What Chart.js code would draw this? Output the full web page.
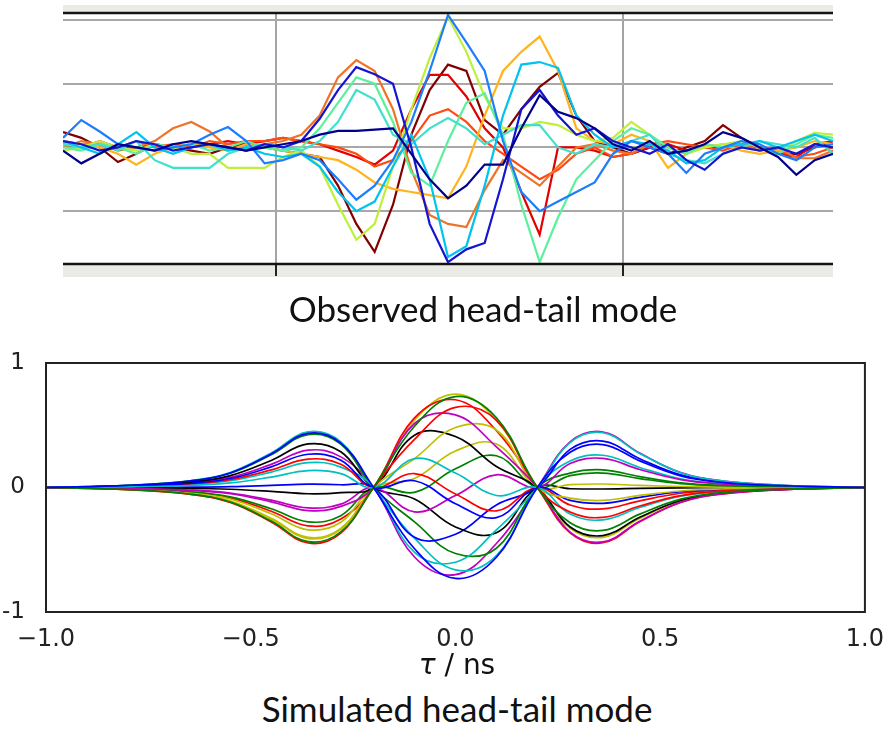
<!DOCTYPE html>
<html>
<head>
<meta charset="utf-8">
<script src="https://cdn.jsdelivr.net/npm/chart.js@4.4.1/dist/chart.umd.min.js"></script>
<style>
  body { margin: 0; background: #fff; }
  #wrap { position: relative; width: 889px; height: 729px; overflow: hidden; }
  canvas { position: absolute; left: 0; }
  .caption {
    position: absolute; white-space: nowrap; text-align: center;
    font-family: Lato, "Open Sans", sans-serif; font-size: 35px; line-height: 32px; color: #111;
  }
  .axis-title {
    position: absolute; white-space: nowrap; text-align: center;
    font-family: "DejaVu Sans", sans-serif; font-size: 28px; line-height: 28px; color: #111;
  }
</style>
</head>
<body>
<div id="wrap">
  <canvas id="observed" width="889" height="290" style="top:0;width:889px;height:290px"></canvas>
  <div class="caption" style="left:263px;width:440px;top:292px">Observed head-tail mode</div>
  <canvas id="simulated" width="889" height="340" style="top:330px;width:889px;height:340px"></canvas>
  <div class="axis-title" style="left:357px;width:200px;top:651px"><i>τ</i> / ns</div>
  <div class="caption" style="left:237px;width:440px;top:692px">Simulated head-tail mode</div>
</div>
<script>
// ---- observed traces: one value per scope sample ----
const obsSamples = Array.from({ length: 43 }, (_, i) => i);
const obsGridX = [11.62, 30.55];
const obsGridY = [-1, 0, 1, 2];

const obsNavy = [-0.05,-0.25,-0.1,0.05,0,-0.05,0.05,0.1,0.05,0, -0.05,0,0.05,0.1,0.2,0.26,0.26,0.28,0.3,-0.1,
  -0.5,-0.8,-0.6,-0.27,-0.27,0.3,0.82,0.56,0.46,0.3, 0.05,-0.05,0.1,-0.1,-0.05,0.05,0.24,0.15,0,-0.15, -0.43,-0.2,-0.1];
const obsBlue = [0.1,0.05,-0.05,0,0.1,0.05,-0.05,0,0.05,0, -0.05,0.05,0,0.1,0.45,0.9,1.26,1.15,1.0,0,
  -1.2,-1.8,-1.6,-1.5,-0.5,0.6,0.9,0.5,0.2,0.3, 0.1,0,-0.1,0.05,-0.2,-0.35,-0.1,0,-0.05,0, -0.1,0.05,0];
const obsDodger = [0.15,0.43,0.25,0.05,0,-0.05,0,0.05,0.2,0.32, 0.1,-0.25,-0.2,-0.1,-0.2,-0.5,-0.82,-0.6,-0.2,0.4,
  1.2,2.08,1.65,1.2,0.1,-0.7,-1.0,-0.85,-0.7,-0.55, -0.1,0.1,0,-0.1,-0.4,-0.1,0,0.1,0.05,-0.1, -0.2,0,0.05];
const obsCyan = [0.1,0,-0.1,0.05,0.24,0,-0.1,0,0.05,-0.05, 0,-0.1,-0.15,-0.1,-0.3,-0.7,-1.0,-0.85,-0.3,0.2,
  -0.5,-1.72,-1.55,-0.6,0.5,1.3,1.34,1.25,0.5,0.2, 0,0.1,0.05,-0.05,-0.25,-0.2,0,0.05,0.1,0, 0.1,0.2,0.1];
const obsTurquoise = [0.05,0,0.05,-0.05,0.1,-0.2,-0.32,-0.32,-0.32,-0.1, 0,0.05,0,-0.05,0.1,0.4,0.9,0.75,0.2,0.05,
  0.3,0.46,0.3,0.05,0.2,0.35,0.35,0,-0.1,0.05, 0,0.1,0.2,-0.1,-0.2,-0.25,-0.1,0,0.1,0.05, 0,0.15,-0.1];
const obsSpring = [0,-0.05,0.05,0,-0.1,0.05,0,0.05,-0.05,0, 0.1,0,-0.05,0,0.3,0.7,1.1,1.0,0.4,-0.4,
  -0.6,0.1,0.7,0.85,0.2,-0.9,-1.8,-1.1,-0.5,-0.2, 0.1,0.3,0.2,0,-0.1,0.05,0,0.1,0,-0.1, 0.05,0.2,0.15];
const obsLime = [-0.05,0,0.1,0,-0.05,0.05,0,-0.1,-0.1,-0.32, -0.32,-0.32,-0.15,-0.05,-0.3,-0.9,-1.45,-1.2,-0.3,0.6,
  1.4,2.05,1.5,0.8,0.3,0.3,0.4,0.35,0.2,0.1, 0.15,0.4,0.2,0,-0.1,0,0.05,0.1,0,-0.1, 0.1,0.23,0.2];
const obsAmber = [0.1,0.05,0,-0.1,-0.27,-0.1,0,0.05,0,-0.05, 0.05,0,-0.05,-0.1,-0.15,-0.2,-0.35,-0.55,-0.65,-0.7,
  -0.75,-0.8,-0.3,0.5,1.2,1.5,1.74,1.2,0.3,0.1, 0.05,0.2,0.1,-0.32,-0.1,0,0.05,-0.05,-0.1,-0.05, 0,0.1,0.05];
const obsOrange = [0,0.1,0.05,-0.05,0,0.1,0.3,0.4,0.25,0, -0.05,0.05,0.1,0.2,0.5,1.1,1.37,1.2,0.6,-0.35,
  -1.06,-1.2,-1.25,-0.67,-0.2,-0.4,-0.6,-0.3,0,0.05, -0.05,-0.1,0.05,0,-0.1,0.05,0,0.05,-0.05,0, -0.17,-0.17,-0.05];
const obsRedOrange = [0.1,0.05,0.05,0,0.1,0,0.05,0,0.1,0.05, 0.1,0.1,0.15,0.1,0.05,0,-0.1,-0.3,-0.2,0.1,
  0.5,0.6,0.4,0.1,-0.1,-0.3,-0.5,-0.35,-0.1,0, -0.15,-0.1,0.05,0.1,0.05,0,-0.05,0.05,0,-0.05, -0.15,-0.1,0];
const obsRed = [0.05,0,0.1,0,0,0.05,0,0.05,0.05,0.1, 0.05,0.1,0.15,0.1,0.05,-0.05,-0.15,-0.27,-0.05,0.6,
  1.14,1.14,0.8,0.3,0,-0.7,-1.37,0,0,-0.05, -0.15,-0.1,0,0.05,-0.05,0,0,0.05,0,-0.1, -0.15,0.05,0.1];
const obsBrown = [0.24,0.15,0,-0.23,-0.1,0.05,0,-0.05,-0.1,0, 0.05,0,-0.05,-0.1,-0.15,-0.6,-1.2,-1.64,-0.9,0.2,
  0.9,1.3,1.2,0.43,0.2,0.6,0.95,1.17,0.5,0.1, 0,-0.1,0,-0.1,0,0.1,0.35,0.15,0,-0.1, -0.1,0,0.1];

const obsSeries = [obsNavy, obsBlue, obsDodger, obsCyan, obsTurquoise, obsSpring,
  obsLime, obsAmber, obsOrange, obsRedOrange, obsRed, obsBrown];
const obsColors = ['#00008c', '#1414d2', '#1e7cff', '#00c4ee', '#40e0cc', '#5cf09c',
  '#c0ee3c', '#ffb41e', '#f07226', '#ff4a12', '#e20000', '#820000'];

// ---- simulated mode, sampled in tau (ns) ----
const simTau = [-1.0, -0.8, -0.65, -0.55, -0.45, -0.36, -0.28, -0.2, -0.1, 0, 0.1, 0.2, 0.28, 0.36, 0.45, 0.55, 0.65, 0.8, 1.0];
const simTicksY = [-1, 0, 1];

const simBlue1 = [0,0.017,0.052,0.117,0.27,0.435,0.357,0,-0.492,-0.73,-0.56,0,0.283,0.345,0.214,0.093,0.041,0.014,0];
const simGreen1 = [0,-0.017,-0.052,-0.117,-0.27,-0.435,-0.357,0,0.492,0.73,0.56,0,-0.283,-0.345,-0.214,-0.093,-0.041,-0.014,0];
const simRed1 = [0,-0.018,-0.054,-0.12,-0.277,-0.446,-0.366,0,0.386,0.643,0.54,0,-0.197,-0.24,-0.149,-0.065,-0.029,-0.01,0];
const simCyan1 = [0,0.005,0.016,0.037,0.084,0.136,0.112,0,0.232,0.117,-0.064,0,-0.213,-0.26,-0.161,-0.07,-0.031,-0.01,0];
const simMagenta1 = [0,-0.007,-0.022,-0.05,-0.115,-0.185,-0.152,0,0.514,0.583,0.326,0,-0.358,-0.437,-0.271,-0.118,-0.052,-0.017,0];
const simYellow1 = [0,-0.016,-0.049,-0.111,-0.254,-0.41,-0.336,0,0.232,0.482,0.462,0,-0.085,-0.104,-0.064,-0.028,-0.012,-0.004,0];
const simBlack1 = [0,-0.002,-0.006,-0.014,-0.031,-0.05,-0.041,0,0.42,0.409,0.168,0,-0.317,-0.386,-0.239,-0.104,-0.046,-0.015,0];
const simBlue2 = [0,0.011,0.032,0.072,0.166,0.267,0.219,0,0.054,-0.13,-0.242,0,-0.104,-0.127,-0.079,-0.034,-0.015,-0.005,0];
const simGreen2 = [0,-0.011,-0.033,-0.075,-0.171,-0.276,-0.226,0,-0.039,0.15,0.255,0,0.095,0.116,0.072,0.031,0.014,0.005,0];
const simRed2 = [0,0.009,0.027,0.062,0.141,0.228,0.187,0,0.112,-0.052,-0.188,0,-0.141,-0.172,-0.107,-0.046,-0.021,-0.007,0];
const simCyan2 = [0,0.008,0.024,0.054,0.124,0.2,0.164,0,-0.521,-0.6,-0.341,0,0.361,0.44,0.273,0.119,0.053,0.018,0];
const simMagenta2 = [0,-0.007,-0.02,-0.044,-0.102,-0.164,-0.134,0,-0.196,-0.065,0.102,0,0.192,0.234,0.145,0.063,0.028,0.009,0];
const simYellow2 = [0,-0.014,-0.041,-0.092,-0.211,-0.34,-0.279,0,0.073,0.293,0.349,0,0.023,0.028,0.017,0.008,0.003,0.001,0];
const simBlack2 = [0,0.014,0.042,0.095,0.217,0.35,0.287,0,-0.092,-0.317,-0.364,0,-0.01,-0.012,-0.007,-0.003,-0.001,0,0];
const simBlue3 = [0,0.001,0.003,0.007,0.017,0.027,0.022,0,-0.4,-0.375,-0.14,0,0.306,0.373,0.231,0.101,0.045,0.015,0];
const simGreen3 = [0,0.017,0.051,0.114,0.263,0.424,0.348,0,-0.276,-0.53,-0.488,0,0.116,0.142,0.088,0.038,0.017,0.006,0];
const simRed3 = [0,-0.012,-0.037,-0.083,-0.191,-0.308,-0.253,0,0.559,0.705,0.457,0,-0.364,-0.444,-0.275,-0.12,-0.053,-0.018,0];
const simCyan3 = [0,0.018,0.054,0.121,0.277,0.447,0.367,0,-0.407,-0.662,-0.547,0,0.212,0.259,0.161,0.07,0.031,0.01,0];
const simMagenta3 = [0,0.012,0.036,0.081,0.186,0.30,0.246,0,-0.558,-0.70,-0.45,0,0.366,0.446,0.277,0.12,0.054,0.018,0];
const simYellow3 = [0,-0.016,-0.048,-0.108,-0.248,-0.40,-0.328,0,0.54,0.75,0.54,0,-0.328,-0.40,-0.248,-0.108,-0.048,-0.016,0];

const simSeries = [simBlue1, simGreen1, simRed1, simCyan1, simMagenta1, simYellow1, simBlack1,
  simBlue2, simGreen2, simRed2, simCyan2, simMagenta2, simYellow2, simBlack2,
  simBlue3, simGreen3, simRed3, simCyan3, simMagenta3, simYellow3];
const simCycle = ['#0000ff', '#008000', '#ff0000', '#00bfbf', '#bf00bf', '#bfbf00', '#000000'];

// scope frame: grey bezel band plus heavy black rails top and bottom
const scopeFrame = {
  id: 'scopeFrame',
  beforeDraw(chart) {
    const { ctx, chartArea: a } = chart;
    ctx.save();
    ctx.fillStyle = '#ebebe6';
    ctx.fillRect(a.left, 5, a.right - a.left, 272);
    ctx.fillStyle = '#ffffff';
    ctx.fillRect(a.left, a.top, a.right - a.left, a.bottom - a.top);
    ctx.restore();
  },
  afterDatasetsDraw(chart) {
    const { ctx, chartArea: a } = chart;
    ctx.save();
    ctx.strokeStyle = '#141414';
    ctx.lineWidth = 2.5;
    ctx.beginPath();
    ctx.moveTo(a.left, a.top); ctx.lineTo(a.right, a.top);
    ctx.moveTo(a.left, a.bottom); ctx.lineTo(a.right, a.bottom);
    ctx.stroke();
    ctx.restore();
  }
};

const boxFrame = {
  id: 'boxFrame',
  afterDraw(chart) {
    const { ctx, chartArea: a } = chart;
    ctx.save();
    ctx.strokeStyle = '#222';
    ctx.lineWidth = 2;
    ctx.strokeRect(a.left, a.top, a.right - a.left, a.bottom - a.top);
    ctx.restore();
  }
};

new Chart(document.getElementById('observed'), {
  type: 'line',
  data: {
    labels: obsSamples,
    datasets: obsSeries.map((vals, i) => ({
      data: vals,
      borderColor: obsColors[i],
      borderWidth: 2.2,
      pointRadius: 0,
      tension: 0,
      fill: false
    }))
  },
  options: {
    responsive: false,
    animation: false,
    events: [],
    layout: { autoPadding: false, padding: { left: 63, right: 56, top: 13, bottom: 14 } },
    plugins: { legend: { display: false }, tooltip: { enabled: false } },
    scales: {
      x: {
        type: 'linear', min: 0, max: 42,
        afterBuildTicks: s => { s.ticks = obsGridX.map(v => ({ value: v })); },
        ticks: { display: false },
        border: { display: false },
        grid: { color: '#a4a4a4', lineWidth: 2, tickColor: '#222', tickLength: 12 }
      },
      y: {
        min: -1.83, max: 2.11,
        afterBuildTicks: s => { s.ticks = obsGridY.map(v => ({ value: v })); },
        ticks: { display: false },
        border: { display: false },
        grid: { color: '#a8a8a8', lineWidth: 2, drawTicks: false }
      }
    }
  },
  plugins: [scopeFrame]
});

new Chart(document.getElementById('simulated'), {
  type: 'line',
  data: {
    labels: simTau,
    datasets: simSeries.map((vals, i) => ({
      data: vals,
      borderColor: simCycle[i % simCycle.length],
      borderWidth: 1.7,
      pointRadius: 0,
      tension: 0.4,
      fill: false
    }))
  },
  options: {
    responsive: false,
    animation: false,
    events: [],
    layout: { autoPadding: false, padding: { left: 0, right: 20, top: 33, bottom: 0 } },
    plugins: { legend: { display: false }, tooltip: { enabled: false } },
    scales: {
      x: {
        type: 'linear', min: -1, max: 1,
        afterFit: s => { s.height = 58; },
        ticks: {
          stepSize: 0.5, padding: 5, color: '#222', font: { family: 'DejaVu Sans', size: 24 }, maxRotation: 0,
          callback: v => (v < 0 ? '\u2212' : '') + Math.abs(v).toFixed(1)
        },
        grid: { display: false },
        border: { display: false }
      },
      y: {
        min: -1, max: 1,
        afterFit: s => { s.width = 46; },
        afterBuildTicks: s => { s.ticks = simTicksY.map(v => ({ value: v })); },
        ticks: { padding: 13, color: '#222', font: { family: 'DejaVu Sans', size: 23 }, callback: v => String(v) },
        grid: { display: false },
        border: { display: false }
      }
    }
  },
  plugins: [boxFrame]
});
</script>
</body>
</html>
